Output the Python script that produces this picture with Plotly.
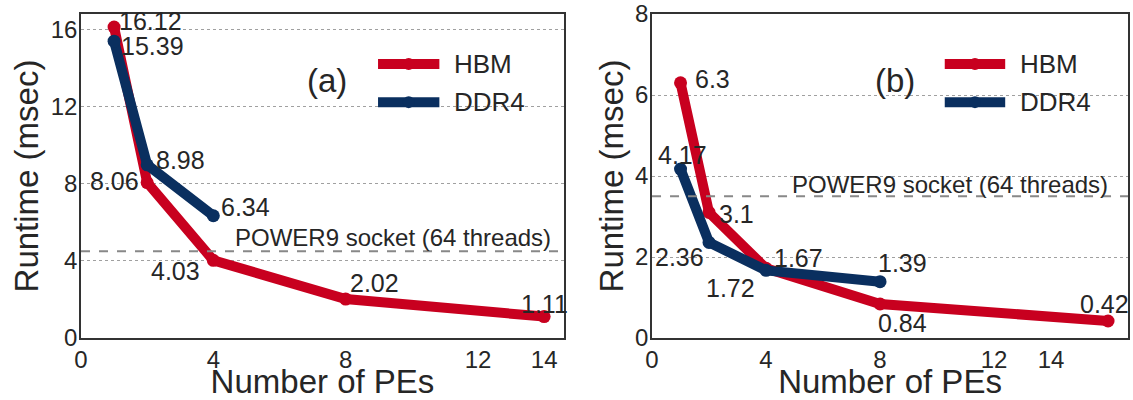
import plotly.graph_objects as go

# ---- data ----
pes_a_hbm = [1, 2, 4, 8, 14]
rt_a_hbm = [16.12, 8.06, 4.03, 2.02, 1.11]
pes_a_ddr = [1, 2, 4]
rt_a_ddr = [15.39, 8.98, 6.34]

pes_b_hbm = [1, 2, 4, 8, 16]
rt_b_hbm = [6.3, 3.1, 1.72, 0.84, 0.42]
pes_b_ddr = [1, 2, 4, 8]
rt_b_ddr = [4.17, 2.36, 1.67, 1.39]

power9_rt = [4.5, 3.5]
power9_label = "POWER9 socket (64 threads)"
x_ticks = [0, 4, 8, 12, 14]
y_ticks_a = [0, 4, 8, 12, 16]
y_ticks_b = [0, 2, 4, 6, 8]
series_names = ["HBM", "DDR4"]
panel_labels = ["(a)", "(b)"]

# ---- styles ----
RED = "#c8001f"
NAVY = "#0a2f5f"
FONT = "Liberation Sans, Arial, sans-serif"
TXT = "#262626"

fig = go.Figure()

def add_series(x, y, color, xa, ya, name):
    fig.add_trace(go.Scatter(
        x=x, y=y, mode="lines+markers", name=name, showlegend=False,
        line=dict(color=color, width=10),
        marker=dict(color=color, size=13),
        xaxis=xa, yaxis=ya, cliponaxis=False,
    ))

add_series(pes_a_hbm, rt_a_hbm, RED, "x", "y", series_names[0])
add_series(pes_a_ddr, rt_a_ddr, NAVY, "x", "y", series_names[1])
add_series(pes_b_hbm, rt_b_hbm, RED, "x2", "y2", series_names[0])
add_series(pes_b_ddr, rt_b_ddr, NAVY, "x2", "y2", series_names[1])

annotations = []
LBL = dict(size=25, color=TXT, family=FONT)

def add_labels(xs, ys, offsets, xref, yref):
    for x, y, (anc, dx, dy) in zip(xs, ys, offsets):
        annotations.append(dict(
            x=x, y=y, xref=xref, yref=yref, text=f"{y:g}", showarrow=False,
            xanchor=anc, yanchor="middle", xshift=dx, yshift=dy, font=LBL))

add_labels(pes_a_hbm, rt_a_hbm,
           [("left", 3, 6), ("right", -6, 2), ("right", -11, -11),
            ("left", 2, 16), ("center", 0, 13)], "x", "y")
add_labels(pes_a_ddr, rt_a_ddr,
           [("left", 5, -5), ("left", 7, 5), ("left", 6, 9)], "x", "y")
add_labels(pes_b_hbm, rt_b_hbm,
           [("left", 12, 4), ("left", 8, -2), ("right", -9, -20),
            ("left", -4, -19), ("right", 23, 17)], "x2", "y2")
add_labels(pes_b_ddr, rt_b_ddr,
           [("center", 2, 14), ("right", -3, -15), ("left", 6, 12),
            ("left", -4, 19)], "x2", "y2")

shapes = []
panels = [("x", "y", "x domain", "y domain", -11, 14),
          ("x2", "y2", "x2 domain", "y2 domain", -18, 12)]
for i, (xa, ya, xd, yd, pshift, pyshift) in enumerate(panels):
    # POWER9 reference line
    shapes.append(dict(type="line", xref=xd, yref=ya, x0=0, x1=1,
                       y0=power9_rt[i], y1=power9_rt[i],
                       line=dict(color="#888888", width=2, dash="dash")))
    annotations.append(dict(x=1, y=power9_rt[i], xref=xd, yref=ya,
                            text=power9_label, showarrow=False,
                            xanchor="right", yanchor="middle",
                            xshift=pshift, yshift=pyshift,
                            font=dict(size=24, color=TXT, family=FONT)))
    # panel label
    annotations.append(dict(x=0.51, y=0.796, xref=xd, yref=yd,
                            text=panel_labels[i], showarrow=False,
                            xanchor="center", yanchor="middle",
                            font=dict(size=33, color=TXT, family=FONT)))
    # manual legend
    for j, (nm, col) in enumerate(zip(series_names, [RED, NAVY])):
        yy = [0.846, 0.728][j]
        shapes.append(dict(type="line", xref=xd, yref=yd, x0=0.615, x1=0.742,
                           y0=yy, y1=yy, line=dict(color=col, width=10)))
        shapes.append(dict(type="circle", xref=xd, yref=yd,
                           xsizemode="pixel", ysizemode="pixel",
                           xanchor=0.6785, yanchor=yy, x0=-6, x1=6, y0=-6, y1=6,
                           fillcolor=col, line=dict(width=0)))
        annotations.append(dict(x=0.768, y=yy, xref=xd, yref=yd, text=nm,
                                showarrow=False, xanchor="left",
                                yanchor="middle",
                                font=dict(size=26, color=TXT, family=FONT)))

axis_common = dict(showline=True, mirror=True, linecolor="#333333",
                   linewidth=1.5, zeroline=False, ticks="", automargin=False,
                   ticklabeloverflow="allow",
                   tickfont=dict(size=24, color=TXT, family=FONT))
TITLE_FONT = dict(size=33, color=TXT, family=FONT)

fig.update_layout(
    width=1133, height=400,
    margin=dict(l=81, r=5, t=14, b=62),
    plot_bgcolor="white", paper_bgcolor="white",
    font=dict(family=FONT, color=TXT),
    shapes=shapes, annotations=annotations,
    xaxis=dict(domain=[0, 0.4613], anchor="y", range=[0, 14.6],
               tickvals=x_ticks, showgrid=False, ticklabelstandoff=-1,
               title=dict(text="Number of PEs", font=TITLE_FONT, standoff=7),
               **axis_common),
    yaxis=dict(domain=[0, 1], anchor="x", range=[0, 16.8],
               tickvals=y_ticks_a, showgrid=True, gridcolor="#a0a0a0",
               griddash="dot", gridwidth=1, ticklabelstandoff=-3,
               title=dict(text="Runtime (msec)", font=TITLE_FONT, standoff=2),
               **axis_common),
    xaxis2=dict(domain=[0.5454, 1], anchor="y2", range=[0, 16.7],
                tickvals=x_ticks, showgrid=False, ticklabelstandoff=-1,
                title=dict(text="Number of PEs", font=TITLE_FONT, standoff=7),
                **axis_common),
    yaxis2=dict(domain=[0, 1], anchor="x2", range=[0, 8],
                tickvals=y_ticks_b, showgrid=True, gridcolor="#a0a0a0",
                griddash="dot", gridwidth=1, ticklabelstandoff=-3,
                title=dict(text="Runtime (msec)", font=TITLE_FONT, standoff=2),
                **axis_common),
)

# remove the browser's default 8px page margin so the figure fills the window
fig.write_html("out.html", config={"displayModeBar": False},
               post_script="document.body.style.margin='0px';")
